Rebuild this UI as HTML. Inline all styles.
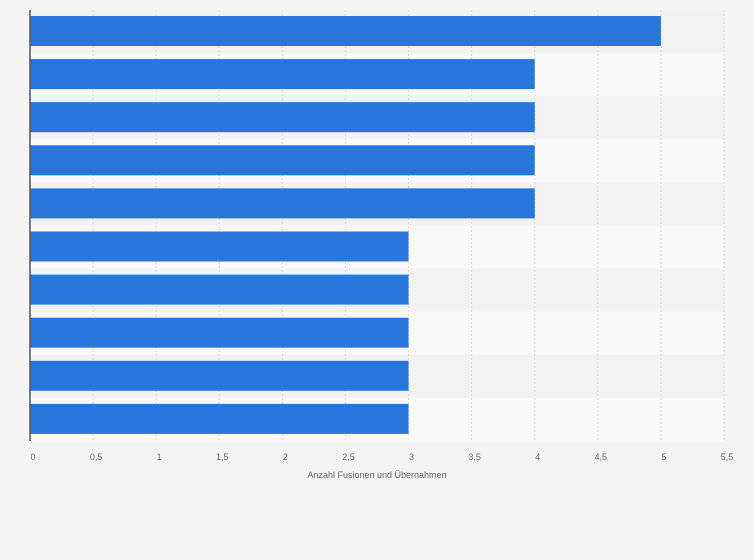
<!DOCTYPE html>
<html><head><meta charset="utf-8"><style>
body{margin:0;background:#f4f4f4;font-family:"Liberation Sans",sans-serif}
svg{display:block}
</style></head><body>
<svg width="754" height="560" id="c">
<rect width="754" height="560" fill="#f4f4f4"/>
</svg>
<script>
const categories=["A","B","C","D","E","F","G","H","I","J"];
const values=[5,4,4,4,4,3,3,3,3,3];
const ticks=[0,0.5,1,1.5,2,2.5,3,3.5,4,4.5,5,5.5];
const tickLabels=["0","0,5","1","1,5","2","2,5","3","3,5","4","4,5","5","5,5"];
const svgEl=document.getElementById('c');
const NS='http://www.w3.org/2000/svg';
const xLeft=30,xRight=724,yTop=10,yBot=441,xmax=5.5;
const xs=v=>xLeft+(xRight-xLeft)*v/xmax;
const bandH=(yBot-yTop)/categories.length;
function mk(t,a){const e=document.createElementNS(NS,t);for(const k in a)e.setAttribute(k,a[k]);svgEl.appendChild(e);return e;}
categories.forEach((c,i)=>{
 const r=mk('rect',{x:xLeft,y:yTop+i*bandH,width:xRight-xLeft,height:bandH,fill:i%2?'#f9f9f9':'#f2f2f2'});
 
 
});
ticks.forEach((t,i)=>{
 if(i>0){const g=mk('line',{x1:xs(t),x2:xs(t),y1:yTop,y2:yBot,stroke:'#dcdcdc','stroke-dasharray':'2,2'});
 
 }
 const l=mk('text',{x:xs(t)+3,y:460,'font-size':9,fill:'#666','text-anchor':'middle'});
 l.textContent=tickLabels[i];
 
 
});
categories.forEach((c,i)=>{
 const y=yTop+i*bandH+6;
 const b=mk('rect',{x:xLeft,y:y,width:xs(values[i])-xLeft,height:30,fill:'#2776db'});
 
 
});
const ax=mk('line',{x1:xLeft,x2:xLeft,y1:yTop,y2:yBot,stroke:'#555','stroke-width':1.5});


const tt=mk('text',{x:377,y:478,'font-size':9,fill:'#666','text-anchor':'middle'});
tt.textContent='Anzahl Fusionen und Übernahmen';


</script>
</body></html>
